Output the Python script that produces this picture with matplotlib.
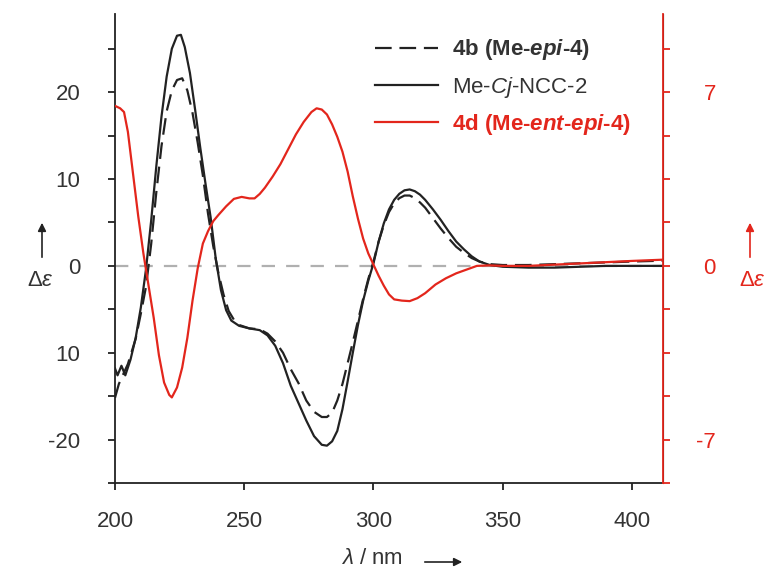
import matplotlib
matplotlib.use('Agg')
import matplotlib.pyplot as plt
import numpy as np

plt.rcParams['font.family'] = ['Liberation Sans', 'DejaVu Sans']
plt.rcParams['mathtext.fontset'] = 'custom'
plt.rcParams['mathtext.rm'] = 'Liberation Sans'
plt.rcParams['mathtext.it'] = 'Liberation Sans:italic'
plt.rcParams['mathtext.bf'] = 'Liberation Sans:bold'
plt.rcParams['mathtext.bfit'] = 'Liberation Sans:bold:italic'

RED = '#e3261c'
TXT = '#333333'

# Me-Cj-NCC-2 (solid, left axis)
wl_cj = [200, 201, 202.5, 204, 206, 208, 210, 212, 214, 216, 218, 220, 222, 224, 225.5,
         227, 229, 231, 233, 235, 237, 239, 241, 243, 245, 248, 252, 256, 259, 262, 265,
         268, 271, 274, 277, 280, 282, 284, 286, 288, 290, 292, 294, 296, 298, 300, 302,
         304, 306, 308, 310, 312, 314, 316, 318, 320, 323, 326, 329, 332, 335, 338, 341,
         345, 350, 360, 370, 380, 390, 400, 412]
de_cj = [-11.8, -12.6, -11.5, -12.6, -10.8, -8.3, -4.8, -0.4, 5.2, 11.5, 17.2, 21.8, 25.0, 26.5, 26.6,
         25.2, 22.2, 18.0, 13.6, 9.5, 5.6, 0.8, -2.8, -5.1, -6.3, -6.9, -7.2, -7.4, -8.0, -9.2, -11.2,
         -13.8, -15.8, -17.8, -19.6, -20.6, -20.7, -20.2, -19.0, -16.5, -13.3, -10.0, -6.8, -4.0, -1.7, 0.3, 2.8,
         4.9, 6.5, 7.6, 8.3, 8.7, 8.8, 8.6, 8.2, 7.6, 6.5, 5.3, 4.0, 2.8, 1.9, 1.1, 0.5,
         0.1, -0.1, -0.2, -0.2, -0.1, 0.0, 0.0, 0.0]

# 4b (dashed, left axis)
wl_4b = [200, 201.5, 203, 205, 208, 210, 212, 214, 216, 218, 220, 222, 224, 226, 228, 230,
         232, 234, 236, 238, 240, 242, 244, 246, 248, 252, 256, 259, 262, 265, 268, 271,
         274, 277, 280, 282, 284, 286, 288, 290, 292, 294, 296, 298, 300, 302, 304, 306,
         308, 310, 312, 314, 316, 318, 320, 323, 326, 329, 332, 335, 338, 341, 345, 350,
         360, 370, 380, 390, 400, 412]
de_4b = [-15.2, -13.6, -12.6, -11.3, -8.4, -5.5, -2.4, 2.5, 8.5, 13.8, 17.8, 20.2, 21.4, 21.6, 20.2, 17.6,
         14.2, 10.4, 6.0, 2.3, -0.8, -3.3, -5.2, -6.2, -6.8, -7.2, -7.3, -7.8, -8.7, -10.0, -11.9, -13.5,
         -15.5, -16.8, -17.4, -17.4, -16.9, -15.5, -13.6, -11.2, -8.8, -6.3, -3.8, -1.5, 0.5, 2.8, 4.7, 6.2,
         7.2, 7.8, 8.1, 8.1, 7.8, 7.3, 6.7, 5.5, 4.3, 3.2, 2.2, 1.5, 0.9, 0.5, 0.2, 0.1,
         0.1, 0.2, 0.3, 0.4, 0.5, 0.6]

# 4d (red, right axis)
wl_4d = [200, 202, 203.5, 205, 207, 209, 211, 213, 215, 217, 219, 221, 222, 224, 226, 228,
         230, 232, 234, 236, 238, 240, 243, 246, 249, 252, 254, 256, 258, 261, 264, 267,
         270, 273, 276, 278, 280, 282, 284, 286, 288, 290, 292, 294, 296, 298, 300, 302,
         304, 306, 308, 311, 314, 317, 320, 324, 328, 332, 336, 340, 345, 350, 360, 370,
         380, 390, 400, 412]
de_4d = [6.45, 6.35, 6.2, 5.4, 3.7, 2.0, 0.5, -0.8, -2.1, -3.6, -4.7, -5.2, -5.3, -4.9, -4.1, -2.9,
         -1.4, -0.1, 0.9, 1.4, 1.8, 2.05, 2.4, 2.7, 2.78, 2.72, 2.72, 2.9, 3.15, 3.6, 4.1, 4.7,
         5.3, 5.8, 6.2, 6.35, 6.3, 6.1, 5.7, 5.2, 4.6, 3.8, 2.8, 1.9, 1.1, 0.5, 0.05, -0.4,
         -0.8, -1.15, -1.35, -1.4, -1.42, -1.3, -1.1, -0.75, -0.5, -0.3, -0.15, 0.0, 0.02, 0.0, 0.0, 0.05,
         0.1, 0.15, 0.2, 0.25]

left_ticks = np.arange(-25, 26, 5)
left_labels = {20: '20', 10: '10', 0: '0', -10: '10', -20: '-20'}
right_ticks = np.arange(-5, 6) * 1.75
right_labels = {7.0: '7', 0.0: '0', -7.0: '-7'}
x_ticks = [200, 250, 300, 350, 400]

fig = plt.figure(figsize=(7.68, 5.74), dpi=100)
ax = fig.add_axes([0.1497, 0.1585, 0.7136, 0.8171])
ax2 = ax.twinx()

ax.axhline(0, color='#b0b0b0', lw=1.6, dashes=(6, 5), zorder=1)
l1, = ax.plot(wl_4b, de_4b, color='#222222', lw=1.6, dashes=(7.5, 3.5), label=r'4b (Me-$\mathbfit{epi}$-4)')
l2, = ax.plot(wl_cj, de_cj, color='#222222', lw=1.6, label=r'Me-$\mathit{Cj}$-NCC-2')
l3, = ax2.plot(wl_4d, de_4d, color=RED, lw=1.6, label=r'4d (Me-$\mathbfit{ent}$-$\mathbfit{epi}$-4)')

ax.set_xlim(200, 412)
ax.set_ylim(-25, 29)
ax2.set_ylim(-25 * 0.35, 29 * 0.35)

ax.set_xticks(x_ticks)
ax.set_xticklabels([str(v) for v in x_ticks])
ax.set_yticks(left_ticks)
ax.set_yticklabels([left_labels.get(int(v), '') for v in left_ticks])
ax2.set_yticks(right_ticks)
ax2.set_yticklabels([right_labels.get(round(v, 2), '') for v in right_ticks])

ax.tick_params(axis='x', direction='out', length=5, width=1.3, colors='#222222',
               labelcolor=TXT, labelsize=16, pad=15)
ax.tick_params(axis='y', direction='out', length=5, width=1.3, colors='#222222',
               labelcolor=TXT, labelsize=16, pad=20)
ax2.tick_params(axis='y', direction='out', length=5, width=1.3, colors=RED,
                labelcolor=RED, labelsize=16, pad=33)
for t in ax2.get_yticklabels():
    t.set_horizontalalignment('right')

for a in (ax, ax2):
    a.spines['top'].set_visible(False)
ax.spines['left'].set_linewidth(1.3)
ax.spines['bottom'].set_linewidth(1.3)
ax.spines['left'].set_color('#222222')
ax.spines['bottom'].set_color('#222222')
ax2.spines['right'].set_color(RED)
ax2.spines['right'].set_linewidth(1.3)
ax2.spines['left'].set_visible(False)
ax2.spines['bottom'].set_visible(False)

leg = ax.legend(handles=[l1, l2, l3], loc='upper left', bbox_to_anchor=(0.4745, 0.95),
                frameon=False, fontsize=16, handlelength=2.85, handletextpad=0.63,
                labelspacing=0.55, borderpad=0, borderaxespad=0)
txts = leg.get_texts()
txts[0].set_fontweight('bold')
txts[0].set_color(TXT)
txts[1].set_color(TXT)
txts[2].set_fontweight('bold')
txts[2].set_color(RED)

# axis labels with arrows
fig.text(40 / 768, 1 - 280 / 574, r'$\Delta\varepsilon$', fontsize=16, color=TXT,
         ha='center', va='center')
fig.text(752 / 768, 1 - 280 / 574, r'$\Delta\varepsilon$', fontsize=16, color=RED,
         ha='center', va='center')
fig.text(372 / 768, 1 - 558 / 574, r'$\lambda$ / nm', fontsize=16, color=TXT,
         ha='center', va='center')
ax.annotate('', xy=(42 / 768, 1 - 220 / 574), xytext=(42 / 768, 1 - 260 / 574),
            xycoords='figure fraction',
            arrowprops=dict(arrowstyle='-|>', color='#222222', lw=1.2, mutation_scale=12))
ax.annotate('', xy=(750 / 768, 1 - 220 / 574), xytext=(750 / 768, 1 - 260 / 574),
            xycoords='figure fraction',
            arrowprops=dict(arrowstyle='-|>', color=RED, lw=1.2, mutation_scale=12))
ax.annotate('', xy=(465 / 768, 1 - 562 / 574), xytext=(422 / 768, 1 - 562 / 574),
            xycoords='figure fraction',
            arrowprops=dict(arrowstyle='-|>', color='#222222', lw=1.2, mutation_scale=12))

fig.savefig('out.png', dpi=100)
